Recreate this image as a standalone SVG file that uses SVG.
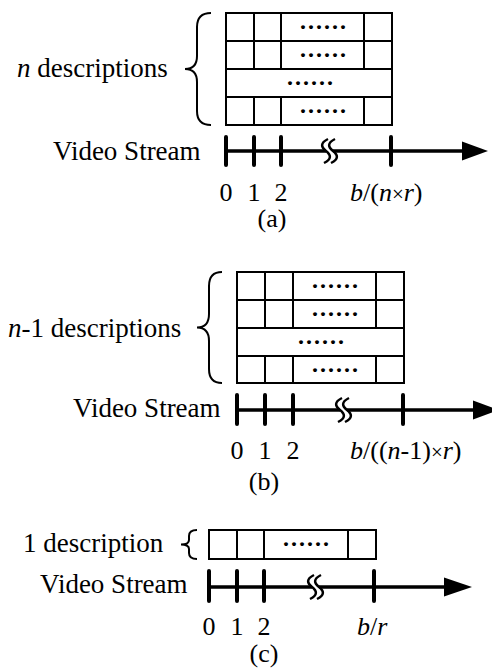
<svg xmlns="http://www.w3.org/2000/svg" width="492" height="668" viewBox="0 0 492 668">
  <style>
    text { font-family: "Liberation Serif", "Times New Roman", serif; font-size: 27px; fill: #000; }
    .lbl { font-size: 26px; }
    .mid { text-anchor: middle; }
    .it { font-style: italic; }
    .sm { font-size: 21px; }
    .dots { font-size: 24px; font-weight: bold; letter-spacing: 2px; text-anchor: middle; }
    .grid { fill: none; stroke: #000; stroke-width: 2; }
    .brace { fill: none; stroke: #000; stroke-width: 2; }
    .axis { stroke: #000; stroke-width: 3.5; fill: none; }
    .tick { stroke: #000; stroke-width: 4; stroke-linecap: round; }
    .brk { fill: none; stroke: #000; stroke-width: 2.5; }
  </style>

  <!-- (a) n descriptions -->
  <g id="panel-a">
    <text x="17" y="77"><tspan class="it">n</tspan> descriptions</text>
    <path class="brace" d="M211,13 Q197,13 197,27 L197,56 Q197,69 185,69 Q197,69 197,82 L197,111 Q197,125 211,125"/>
    <g id="grid-a" class="grid">
      <rect x="226" y="13" width="166" height="112"/>
      <path d="M226,41 H392 M226,69 H392 M226,97 H392"/>
      <path d="M254,13 V69 M281,13 V69 M364,13 V69 M254,97 V125 M281,97 V125 M364,97 V125"/>
    </g>
    <text class="dots" x="324" y="29">......</text>
    <text class="dots" x="324" y="57">......</text>
    <text class="dots" x="311" y="85">......</text>
    <text class="dots" x="324" y="113">......</text>
    <text x="53" y="160">Video Stream</text>
    <g id="axis-a">
      <path class="axis" d="M226,151 H326 M333,151 H464"/>
      <polygon points="462,141.5 488,151 462,160.5" fill="#000"/>
      <path class="tick" d="M226,137 V165 M254,137 V165 M281,137 V165 M391,137 V165"/>
      <path class="brk" d="M328,139 C320,143 321,147 326,151 C331,155 332,159 324,163"/>
      <path class="brk" d="M335,139 C327,143 328,147 333,151 C338,155 339,159 331,163"/>
    </g>
    <text class="lbl mid" x="226" y="201">0</text>
    <text class="lbl mid" x="254" y="201">1</text>
    <text class="lbl mid" x="281" y="201">2</text>
    <text class="lbl" x="350" y="201"><tspan class="it">b</tspan>/(<tspan class="it">n</tspan><tspan class="sm">×</tspan><tspan class="it">r</tspan>)</text>
    <text class="lbl mid" x="272" y="227">(a)</text>
  </g>

  <!-- (b) n-1 descriptions -->
  <g id="panel-b">
    <text x="8" y="337"><tspan class="it">n</tspan>-1 descriptions</text>
    <path class="brace" d="M222,272 Q209,272 209,286 L209,314 Q209,327.5 197,327.5 Q209,327.5 209,341 L209,369 Q209,383 222,383"/>
    <g id="grid-b" class="grid">
      <rect x="237" y="272" width="167" height="111"/>
      <path d="M237,300 H404 M237,328 H404 M237,356 H404"/>
      <path d="M265,272 V328 M293,272 V328 M376,272 V328 M265,356 V383 M293,356 V383 M376,356 V383"/>
    </g>
    <text class="dots" x="336" y="288">......</text>
    <text class="dots" x="336" y="316">......</text>
    <text class="dots" x="322" y="344">......</text>
    <text class="dots" x="336" y="372">......</text>
    <text x="73" y="417">Video Stream</text>
    <g id="axis-b">
      <path class="axis" d="M237,410 H340 M347,410 H475"/>
      <polygon points="473,400.5 499,410 473,419.5" fill="#000"/>
      <path class="tick" d="M237,395 V424 M265,395 V424 M293,395 V424 M403,395 V424"/>
      <path class="brk" d="M342,398 C334,402 335,406 340,410 C345,414 346,418 338,422"/>
      <path class="brk" d="M349,398 C341,402 342,406 347,410 C352,414 353,418 345,422"/>
    </g>
    <text class="lbl mid" x="237" y="459">0</text>
    <text class="lbl mid" x="265" y="459">1</text>
    <text class="lbl mid" x="293" y="459">2</text>
    <text class="lbl" x="350" y="459"><tspan class="it">b</tspan>/((<tspan class="it">n</tspan>-1)<tspan class="sm">×</tspan><tspan class="it">r</tspan>)</text>
    <text class="lbl mid" x="264" y="490">(b)</text>
  </g>

  <!-- (c) 1 description -->
  <g id="panel-c">
    <text x="23" y="552">1 description</text>
    <path class="brace" d="M197,530 Q189,530 189,536 L189,540 Q189,544.5 181,544.5 Q189,544.5 189,549 L189,553 Q189,559 197,559"/>
    <g id="grid-c" class="grid">
      <rect x="209" y="530" width="167" height="29"/>
      <path d="M237,530 V559 M264,530 V559 M348,530 V559"/>
    </g>
    <text class="dots" x="307" y="546">......</text>
    <text x="40" y="593">Video Stream</text>
    <g id="axis-c">
      <path class="axis" d="M209,587 H312 M319,587 H446"/>
      <polygon points="444,577.5 472,587 444,596.5" fill="#000"/>
      <path class="tick" d="M209,571 V601 M237,571 V601 M264,571 V601 M374,571 V601"/>
      <path class="brk" d="M314,575 C306,579 307,583 312,587 C317,591 318,595 310,599"/>
      <path class="brk" d="M321,575 C313,579 314,583 319,587 C324,591 325,595 317,599"/>
    </g>
    <text class="lbl mid" x="209" y="635">0</text>
    <text class="lbl mid" x="237" y="635">1</text>
    <text class="lbl mid" x="264" y="635">2</text>
    <text class="lbl" x="357" y="635"><tspan class="it">b</tspan>/<tspan class="it">r</tspan></text>
    <text class="lbl mid" x="264" y="662">(c)</text>
  </g>
</svg>
